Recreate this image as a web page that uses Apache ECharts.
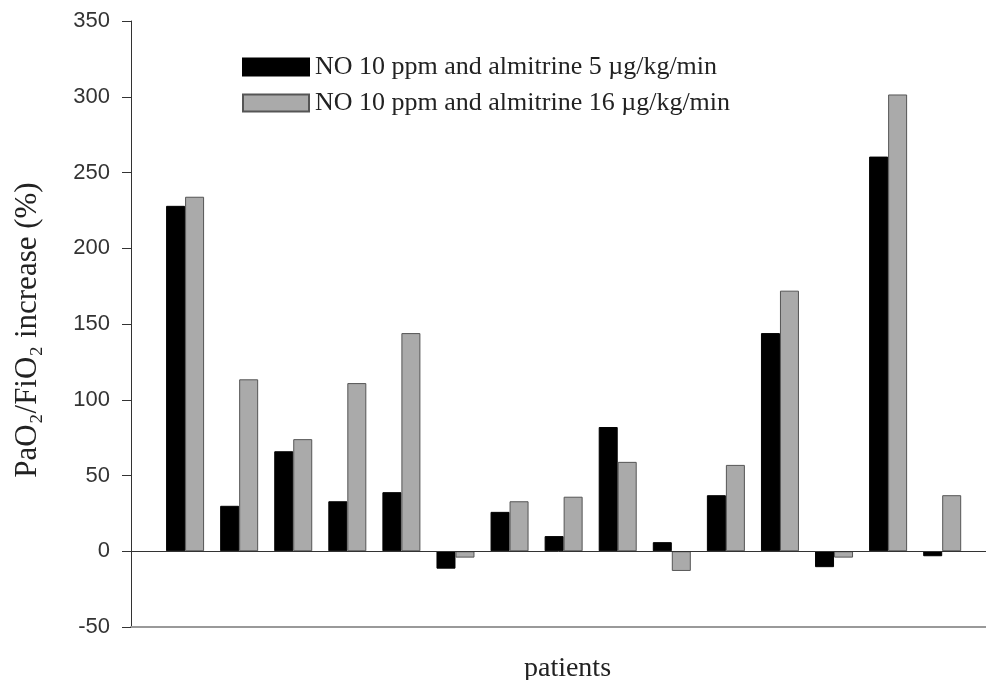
<!DOCTYPE html>
<html style="height: 100%">
<head>
	<meta charset="utf-8">
</head>
<body style="height: 100%; margin: 0; background: #fff">
<div id="container" style="width: 986px; height: 680px"></div>
<script type="text/javascript" src="https://cdn.jsdelivr.net/npm/echarts@6/dist/echarts.min.js"></script>
<script type="text/javascript">
    // patient index 1..15
    var patients = [1, 2, 3, 4, 5, 6, 7, 8, 9, 10, 11, 12, 13, 14, 15];
    var seriesNames = ['NO 10 ppm and almitrine 5 \u00b5g/kg/min', 'NO 10 ppm and almitrine 16 \u00b5g/kg/min'];
    var almitrine5 = [228, 30, 66, 33, 39, -11.5, 26, 10, 82, 6, 37, 144, -10.5, 260.5, -3.3];
    var almitrine16 = [234, 113.5, 74, 111, 144, -4.2, 33, 36, 59, -13, 57, 172, -4.2, 301.5, 37];
    var yTicks = [-50, 0, 50, 100, 150, 200, 250, 300, 350];

    var dom = document.getElementById("container");
    var myChart = echarts.init(dom);

    function pairs(vals) {
        return patients.map(function (p, i) { return [p, vals[i]]; });
    }

    var serif = '"Liberation Serif", "DejaVu Serif", serif';

    var option = {
        backgroundColor: '#fff',
        animation: false,
        grid: {
            left: 131,
            right: 0,
            top: 21,
            bottom: 53,
            outerBoundsMode: 'none'
        },
        legend: {
            left: 237,
            top: 49,
            orient: 'vertical',
            icon: 'rect',
            itemWidth: 66,
            itemHeight: 17,
            itemGap: 10,
            textStyle: {
                fontFamily: serif,
                fontSize: 26,
                color: '#222',
                padding: [0, 0, 0, 1]
            },
            data: seriesNames
        },
        xAxis: {
            type: 'value',
            min: 0,
            max: 15.81,
            name: 'patients',
            nameLocation: 'middle',
            nameGap: 28,
            nameTextStyle: {
                fontFamily: serif,
                fontSize: 28,
                color: '#222',
                padding: [0, 0, 0, 18]
            },
            axisLine: { show: true, onZero: false, lineStyle: { color: '#999', width: 2 } },
            axisTick: { show: false },
            axisLabel: { show: false },
            splitLine: { show: false }
        },
        yAxis: {
            type: 'value',
            min: yTicks[0],
            max: yTicks[yTicks.length - 1],
            interval: 50,
            name: 'PaO\u2082/FiO\u2082 increase (%)',
            nameLocation: 'middle',
            nameGap: 88,
            nameTextStyle: {
                fontFamily: serif,
                fontSize: 31,
                color: '#222',
                padding: [0, 12, 0, 0]
            },
            axisLine: { show: true, lineStyle: { color: '#333', width: 1 } },
            axisTick: { show: true, length: 9, lineStyle: { color: '#333' } },
            axisLabel: {
                margin: 21,
                fontFamily: '"Liberation Sans", Arial, sans-serif',
                fontSize: 22,
                color: '#333'
            },
            splitLine: { show: false }
        },
        series: [{
            type: 'bar',
            name: seriesNames[0],
            data: pairs(almitrine5),
            barWidth: 19,
            barGap: '0%',
            itemStyle: { color: '#000', borderColor: '#000', borderWidth: 1 },
            markLine: {
                silent: true,
                symbol: 'none',
                label: { show: false },
                lineStyle: { color: '#333', width: 1, type: 'solid' },
                data: [{ yAxis: 0 }]
            }
        }, {
            type: 'bar',
            name: seriesNames[1],
            data: pairs(almitrine16),
            barWidth: 19,
            barGap: '0%',
            itemStyle: { color: '#aaaaaa', borderColor: '#555', borderWidth: 1 }
        }]
    };

    myChart.setOption(option);
</script>
</body>
</html>
